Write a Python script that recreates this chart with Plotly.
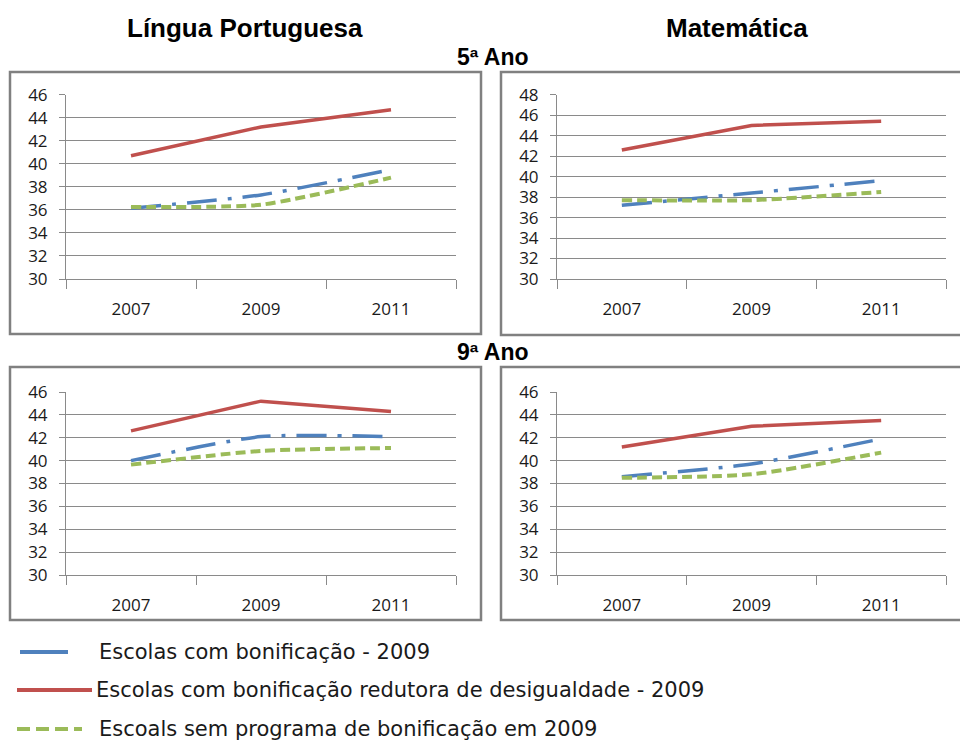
import plotly.graph_objects as go

years = ["2007", "2009", "2011"]

series_names = [
    "Escolas com bonificação - 2009",
    "Escolas com bonificação redutora de desigualdade - 2009",
    "Escoals sem programa de bonificação em 2009",
]

# Língua Portuguesa 5º ano
lp5_bonif = [36.15, 37.3, 39.5]
lp5_redutora = [40.7, 43.2, 44.7]
lp5_sem = [36.25, 36.45, 38.8]

# Matemática 5º ano
mat5_bonif = [37.2, 38.4, 39.6]
mat5_redutora = [42.6, 45.0, 45.4]
mat5_sem = [37.7, 37.7, 38.5]

# Língua Portuguesa 9º ano
lp9_bonif = [40.0, 42.1, 42.1]
lp9_redutora = [42.6, 45.2, 44.3]
lp9_sem = [39.65, 40.85, 41.1]

# Matemática 9º ano
mat9_bonif = [38.6, 39.7, 41.9]
mat9_redutora = [41.2, 43.0, 43.5]
mat9_sem = [38.5, 38.8, 40.7]

y_ranges = [[30, 46], [30, 48], [30, 46], [30, 46]]
col_titles = ["Língua Portuguesa", "Matemática"]
row_titles = ["5ª Ano", "9ª Ano"]

BLUE = "#4F81BD"
RED = "#C0504D"
GREEN = "#9BBB59"
GRID = "#8a8a8a"
BORDER = "#808080"

W, H = 960, 744

def px_x(x):
    return x / W

def px_y(y):
    return 1 - y / H

fig = go.Figure()

panels = [
    (lp5_bonif, lp5_redutora, lp5_sem),
    (mat5_bonif, mat5_redutora, mat5_sem),
    (lp9_bonif, lp9_redutora, lp9_sem),
    (mat9_bonif, mat9_redutora, mat9_sem),
]

styles = [
    dict(color=BLUE, width=3.5, dash="30px,11px,4px,11px", shape="spline"),
    dict(color=RED, width=3.5, dash="solid", shape="linear"),
    dict(color=GREEN, width=4, dash="10px,5px", shape="spline"),
]

for i, panel in enumerate(panels):
    suffix = "" if i == 0 else str(i + 1)
    for j, vals in enumerate(panel):
        st = styles[j]
        fig.add_trace(go.Scatter(
            x=years, y=vals, mode="lines", name=series_names[j],
            showlegend=False,
            line=dict(color=st["color"], width=st["width"], dash=st["dash"],
                      shape=st["shape"], smoothing=0.6),
            xaxis="x" + suffix, yaxis="y" + suffix,
        ))

# plot-area geometry (pixels)
x_doms = [(66, 456), (557, 946), (66, 456), (557, 946)]
y_doms = [(94.7, 279), (94.7, 279), (392, 575), (392, 575)]

tickfont = dict(family="Open Sans", size=17, color="#1a1a1a")
layout = {}
for i in range(4):
    suffix = "" if i == 0 else str(i + 1)
    xd = x_doms[i]
    yd = y_doms[i]
    layout["xaxis" + suffix] = dict(
        domain=[px_x(xd[0]), px_x(xd[1])], anchor="y" + suffix,
        type="category", range=[-0.5, 2.5], tickson="boundaries",
        ticks="outside", ticklen=9,
        tickcolor=GRID, showline=True, linecolor=GRID, linewidth=1,
        showgrid=False, tickfont=tickfont, ticklabelstandoff=15,
        fixedrange=True, automargin=False,
    )
    layout["yaxis" + suffix] = dict(
        domain=[px_y(yd[1]), px_y(yd[0])], anchor="x" + suffix,
        range=y_ranges[i], dtick=2, tick0=30, ticks="outside", ticklen=6,
        tickcolor=GRID, showline=True, linecolor=GRID, linewidth=1,
        showgrid=True, gridcolor=GRID, gridwidth=1, zeroline=False,
        tickfont=tickfont, ticklabelstandoff=8, fixedrange=True,
        automargin=False,
    )

shapes = []
boxes = [(10, 72, 481, 334), (501, 72, 962, 335), (10, 367, 481, 620), (501, 367, 962, 620)]
for (x0, y0, x1, y1) in boxes:
    shapes.append(dict(type="rect", xref="paper", yref="paper",
                       x0=px_x(x0), x1=px_x(x1), y0=px_y(y1), y1=px_y(y0),
                       line=dict(color=BORDER, width=2.5), layer="below"))

# legend samples
legend_rows = [652, 690, 729]
legend_samples = [
    dict(x0=20, x1=68, color=BLUE, dash="solid", width=4),
    dict(x0=17, x1=92, color=RED, dash="solid", width=4),
    dict(x0=17, x1=82, color=GREEN, dash="13px,6px", width=4),
]
for r, s in zip(legend_rows, legend_samples):
    shapes.append(dict(type="line", xref="paper", yref="paper",
                       x0=px_x(s["x0"]), x1=px_x(s["x1"]), y0=px_y(r), y1=px_y(r),
                       line=dict(color=s["color"], width=s["width"], dash=s["dash"])))

annotations = []
title_font = dict(family="Liberation Sans, Arial", size=26, color="#000000")
for t, cx in zip(col_titles, [245, 737]):
    annotations.append(dict(text="<b>%s</b>" % t, x=px_x(cx), y=px_y(28), xref="paper",
                            yref="paper", showarrow=False, xanchor="center",
                            yanchor="middle", font=title_font))
for t, cy in zip(row_titles, [57, 352]):
    annotations.append(dict(text="<b>%s</b>" % t, x=px_x(493), y=px_y(cy), xref="paper",
                            yref="paper", showarrow=False, xanchor="center",
                            yanchor="middle", font=dict(family="Liberation Sans, Arial", size=23, color="#000000")))

legend_text_x = [97, 94, 97]
for name, r, lx in zip(series_names, legend_rows, legend_text_x):
    annotations.append(dict(text=name, x=px_x(lx), y=px_y(r), xref="paper", yref="paper",
                            showarrow=False, xanchor="left", yanchor="middle",
                            font=dict(family="DejaVu Sans", size=21, color="#1a1a1a")))

fig.update_layout(
    width=W, height=H, margin=dict(l=0, r=0, t=0, b=0),
    paper_bgcolor="white", plot_bgcolor="white",
    showlegend=False, shapes=shapes, annotations=annotations,
    **layout,
)

fig.write_html("out.html", config={"displayModeBar": False},
               post_script="document.body.style.margin='0';")
